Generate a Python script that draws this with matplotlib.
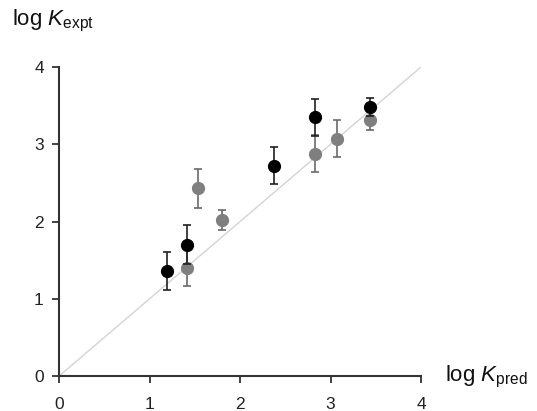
import numpy as np
import matplotlib.pyplot as plt

plt.rcParams.update({
    'font.family': ['Liberation Sans', 'DejaVu Sans'],
    'mathtext.fontset': 'custom',
    'mathtext.rm': 'Liberation Sans',
    'mathtext.it': 'Liberation Sans:italic',
})

# black series
pred_a = [1.19, 1.41, 2.38, 2.83, 3.44]
expt_a = [1.36, 1.70, 2.72, 3.35, 3.48]
err_a = [0.25, 0.25, 0.24, 0.24, 0.12]

# gray series
pred_b = [1.41, 1.54, 1.80, 2.83, 3.07, 3.44]
expt_b = [1.40, 2.43, 2.02, 2.88, 3.07, 3.32]
err_b = [0.24, 0.25, 0.13, 0.24, 0.24, 0.13]

fig = plt.figure(figsize=(5.37, 4.11), dpi=100)
ax = fig.add_axes([0.110, 0.085, 0.674, 0.752])

ax.plot([0, 4], [0, 4], color='#d4d4d4', lw=1.0, zorder=1)

ax.errorbar(pred_b, expt_b, yerr=err_b, fmt='o', color='#7f7f7f',
            ecolor='#6a6a6a', elinewidth=1.2, capsize=3, capthick=1.2,
            markersize=8.5, zorder=3)
ax.errorbar(pred_a, expt_a, yerr=err_a, fmt='o', color='black',
            ecolor='#202020', elinewidth=1.2, capsize=3, capthick=1.2,
            markersize=8.5, zorder=4)

ax.set_xlim(0, 4)
ax.set_ylim(0, 4)
ax.set_xticks([0, 1, 2, 3, 4])
ax.set_yticks([0, 1, 2, 3, 4])
ax.tick_params(direction='out', length=5, width=1.3, labelsize=12.5,
               color='#333333', labelcolor='#222222')
ax.tick_params(axis='x', pad=10)
ax.tick_params(axis='y', pad=6)
for s in ['top', 'right']:
    ax.spines[s].set_visible(False)
for s in ['left', 'bottom']:
    ax.spines[s].set_linewidth(1.5)
    ax.spines[s].set_color('#333333')

fig.text(0.022, 0.948, r'log $K_{\mathrm{expt}}$', fontsize=16, ha='left', va='center',
         color='#111111')
fig.text(0.828, 0.082, r'log $K_{\mathrm{pred}}$', fontsize=16, ha='left', va='center',
         color='#111111')

plt.savefig('out.png', dpi=100)
